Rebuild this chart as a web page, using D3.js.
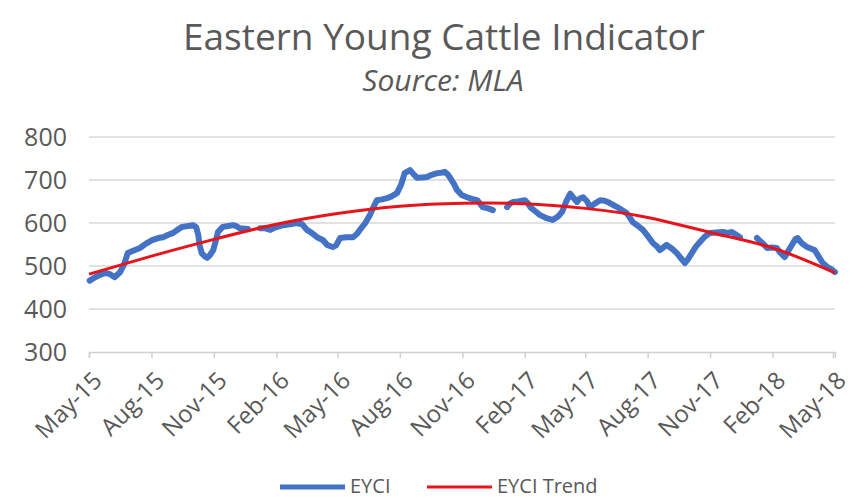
<!DOCTYPE html>
<html>
<head>
<meta charset="utf-8">
<script src="https://cdn.jsdelivr.net/npm/d3@7"></script>
<style>
  body { margin: 0; background: #fff; }
  svg { font-family: "Open Sans", sans-serif; }
</style>
</head>
<body>
<div id="chart"></div>
<script>
// EYCI (c/kg cwt), null = break in the series
var eyciDates = [
  "2015-05-02","2015-05-10","2015-05-17","2015-05-25","2015-06-01","2015-06-08","2015-06-16","2015-06-22","2015-06-27",
  "2015-07-06","2015-07-15","2015-07-24","2015-08-02","2015-08-11","2015-08-18","2015-08-25","2015-09-02","2015-09-09",
  "2015-09-15","2015-09-24","2015-10-01","2015-10-06","2015-10-09","2015-10-11","2015-10-14","2015-10-19","2015-10-22",
  "2015-10-26","2015-10-31","2015-11-04","2015-11-07","2015-11-14","2015-11-22","2015-11-29","2015-12-05","2015-12-09",
  "2015-12-21","2015-12-28",
  "2016-01-08","2016-01-15","2016-01-23","2016-01-31","2016-02-11","2016-02-21","2016-03-02","2016-03-10","2016-03-17",
  "2016-03-24","2016-04-01","2016-04-10","2016-04-16","2016-04-24","2016-04-29","2016-05-05","2016-05-14","2016-05-24",
  "2016-05-30","2016-06-03","2016-06-11","2016-06-18","2016-06-24","2016-06-28","2016-07-06","2016-07-13","2016-07-20",
  "2016-07-28","2016-08-03","2016-08-08","2016-08-16","2016-08-22","2016-08-26","2016-09-03","2016-09-10","2016-09-17",
  "2016-09-25","2016-10-01","2016-10-06","2016-10-11","2016-10-14","2016-10-20","2016-10-24","2016-10-31","2016-11-08",
  "2016-11-15","2016-11-23","2016-11-27","2016-12-01","2016-12-09","2016-12-16","2016-12-28",
  "2017-01-06","2017-01-10","2017-01-15","2017-01-22","2017-02-01","2017-02-06","2017-02-09","2017-02-16","2017-02-23",
  "2017-03-04","2017-03-14","2017-03-22","2017-03-28","2017-04-03","2017-04-09","2017-04-13","2017-04-19","2017-04-23",
  "2017-04-28","2017-05-04","2017-05-08","2017-05-15","2017-05-23","2017-05-29","2017-06-03","2017-06-11","2017-06-17",
  "2017-06-24","2017-07-01","2017-07-06","2017-07-10","2017-07-18","2017-07-25","2017-08-01","2017-08-09","2017-08-15",
  "2017-08-19","2017-08-24","2017-08-29","2017-09-06","2017-09-13","2017-09-19","2017-09-25","2017-09-29","2017-10-05",
  "2017-10-11","2017-10-17","2017-10-24","2017-11-01","2017-11-10","2017-11-20","2017-11-27","2017-12-03","2017-12-09",
  "2017-12-15","2017-12-28",
  "2018-01-09","2018-01-16","2018-01-24","2018-01-31","2018-02-07","2018-02-13","2018-02-19","2018-02-25","2018-03-03",
  "2018-03-07","2018-03-10","2018-03-16","2018-03-24","2018-03-30","2018-04-04","2018-04-10","2018-04-16","2018-04-24",
  "2018-04-29","2018-05-04"
];
var eyciValues = [
  466,474,479,484,481,474,486,505,530,
  536,542,552,560,565,567,572,577,585,
  591,593,595,590,572,548,530,522,519,
  525,537,560,579,591,593,595,592,588,
  586,null,
  588,588,584,590,595,597,600,597,584,
  577,567,560,549,544,548,565,567,567,
  575,584,600,619,640,653,655,658,662,
  670,690,716,723,712,705,706,707,712,
  716,717,719,712,705,690,677,665,660,
  656,653,645,637,634,630,null,
  637,645,649,650,653,645,637,628,619,
  612,607,615,626,650,668,660,649,657,
  660,650,637,645,653,652,649,642,637,
  630,623,612,602,593,584,570,553,545,
  537,543,549,540,530,518,507,515,530,
  545,556,568,577,578,579,577,579,573,
  567,null,
  565,555,542,543,542,530,521,537,553,
  563,565,553,544,540,537,522,507,496,
  492,486
];

// polynomial trend as drawn in the picture
var trendDates = ["2015-05-01","2015-08-01","2015-11-01","2016-02-01","2016-05-01","2016-08-01","2016-11-01",
  "2017-02-01","2017-05-01","2017-08-01","2017-11-01","2018-02-01","2018-05-04"];
var trendValues = [481,523,562,597,622,639,646,645,634,613,578,542,484];

var tickDates = ["2015-05-01","2015-08-01","2015-11-01","2016-02-01","2016-05-01","2016-08-01","2016-11-01",
  "2017-02-01","2017-05-01","2017-08-01","2017-11-01","2018-02-01","2018-05-01"];
var yTicks = [300, 400, 500, 600, 700, 800];

var seriesNames = ["EYCI", "EYCI Trend"];
var seriesColors = ["#4472C4", "#E8141B"];

var width = 860, height = 500;
var margin = {left: 89, right: 25, top: 137, bottom: 148};

var parse = d3.timeParse("%Y-%m-%d");
var eyci = eyciDates.map(function(d, i) { return {date: parse(d), value: eyciValues[i]}; });
var trend = trendDates.map(function(d, i) { return {date: parse(d), value: trendValues[i]}; });

var svg = d3.select("#chart").append("svg")
    .attr("width", width)
    .attr("height", height);

var x = d3.scaleTime()
    .domain([parse("2015-05-01"), parse("2018-05-04")])
    .range([margin.left, width - margin.right]);

var y = d3.scaleLinear()
    .domain([300, 800])
    .range([height - margin.bottom, margin.top]);

// Title
svg.append("text")
    .attr("x", 444)
    .attr("y", 50)
    .attr("text-anchor", "middle")
    .style("font-size", "37px")
    .style("fill", "#595959")
    .text("Eastern Young Cattle Indicator");

svg.append("text")
    .attr("x", 443)
    .attr("y", 91)
    .attr("text-anchor", "middle")
    .style("font-size", "30px")
    .style("font-style", "italic")
    .style("fill", "#595959")
    .text("Source: MLA");

// grid lines
svg.append("g")
    .selectAll("line")
    .data(yTicks.filter(function(d) { return d > 300; }))
    .enter()
    .append("line")
    .attr("x1", x.range()[0])
    .attr("x2", x.range()[1])
    .attr("y1", function(d) { return y(d); })
    .attr("y2", function(d) { return y(d); })
    .attr("stroke", "#d9d9d9")
    .attr("stroke-width", 1.5);

// Y axis labels
var yAxis = svg.append("g")
    .attr("transform", "translate(" + margin.left + ",0)")
    .call(d3.axisLeft(y).tickValues(yTicks).tickSize(0).tickPadding(22));
yAxis.select(".domain").remove();
yAxis.selectAll("text")
    .style("font-size", "25px")
    .style("font-family", "'Open Sans', sans-serif")
    .style("fill", "#595959");

// X axis
var xAxis = svg.append("g")
    .attr("transform", "translate(0," + y(300) + ")")
    .call(d3.axisBottom(x)
        .tickValues(tickDates.map(parse))
        .tickSize(6)
        .tickFormat(d3.timeFormat("%b-%y")));
xAxis.select(".domain").attr("stroke", "#d0d0d0").attr("stroke-width", 1.5);
xAxis.selectAll(".tick line").attr("stroke", "#d0d0d0").attr("stroke-width", 1.5);
xAxis.selectAll("text")
    .style("font-size", "24px")
    .style("font-family", "'Open Sans', sans-serif")
    .style("fill", "#595959")
    .attr("text-anchor", "end")
    .attr("x", 0)
    .attr("y", 0)
    .attr("dy", "0.35em")
    .attr("transform", "translate(8,24) rotate(-45)");

// EYCI line
svg.append("path")
    .datum(eyci)
    .attr("fill", "none")
    .attr("stroke", seriesColors[0])
    .attr("stroke-width", 6)
    .attr("stroke-linejoin", "round")
    .attr("stroke-linecap", "round")
    .attr("d", d3.line()
        .defined(function(d) { return d.value != null; })
        .x(function(d) { return x(d.date); })
        .y(function(d) { return y(d.value); })
    );

// Trend line
svg.append("path")
    .datum(trend)
    .attr("fill", "none")
    .attr("stroke", seriesColors[1])
    .attr("stroke-width", 3)
    .attr("d", d3.line()
        .curve(d3.curveNatural)
        .x(function(d) { return x(d.date); })
        .y(function(d) { return y(d.value); })
    );

// Legend at the bottom edge
var legendX = [280, 427];
var legend = svg.selectAll(".legend")
    .data(seriesNames)
    .enter()
    .append("g")
    .attr("class", "legend")
    .attr("transform", function(d, i) { return "translate(" + legendX[i] + ",0)"; });

legend.append("line")
    .attr("x1", 0)
    .attr("x2", 65)
    .attr("y1", 487)
    .attr("y2", 487)
    .attr("stroke", function(d, i) { return seriesColors[i]; })
    .attr("stroke-width", function(d, i) { return i == 0 ? 5 : 3; });

legend.append("text")
    .attr("x", 70)
    .attr("y", 493)
    .style("font-size", "20px")
    .style("fill", "#595959")
    .text(function(d) { return d; });
</script>
</body>
</html>
